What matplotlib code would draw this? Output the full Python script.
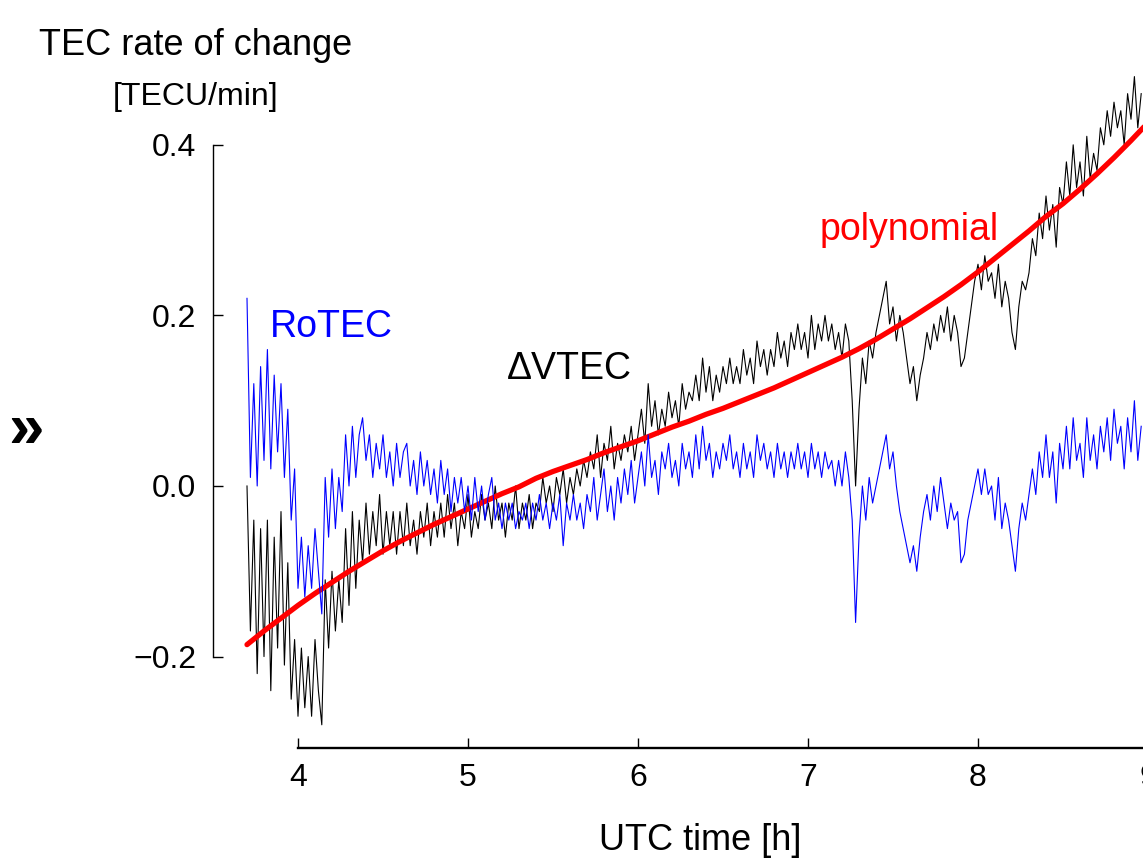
import numpy as np
import matplotlib
matplotlib.use("Agg")
import matplotlib.pyplot as plt

plt.rcParams['font.family'] = ['Liberation Sans', 'DejaVu Sans']

# time axis of the measured series (UTC hours), one sample every 0.02 h
t_start = 3.70
t_step = 0.02

# delta VTEC [TECU/min]
dvtec = [
    0.00, -0.17, -0.04, -0.22, -0.05, -0.20, -0.04, -0.24, -0.06, -0.19,
    -0.03, -0.21, -0.09, -0.25, -0.18, -0.27, -0.19, -0.26, -0.20, -0.27,
    -0.18, -0.24, -0.28, -0.11, -0.19, -0.10, -0.17, -0.11, -0.16, -0.05,
    -0.14, -0.03, -0.12, -0.04, -0.09, -0.02, -0.08, -0.03, -0.07, -0.01,
    -0.08, -0.03, -0.07, -0.03, -0.08, -0.03, -0.07, -0.02, -0.07, -0.04,
    -0.08, -0.03, -0.06, -0.02, -0.07, -0.03, -0.06, -0.02, -0.06, -0.01,
    -0.05, -0.02, -0.07, -0.03, -0.05, -0.01, -0.06, -0.03, -0.05, -0.01,
    -0.04, -0.02, -0.05, 0.00, -0.04, -0.02, -0.06, -0.02, -0.04, 0.00,
    -0.05, -0.02, -0.04, -0.01, -0.05, -0.02, -0.03, 0.01, -0.02, 0.00,
    -0.03, 0.01, -0.01, 0.02, -0.02, 0.01, -0.01, 0.02, 0.00, 0.03,
    0.01, 0.04, 0.02, 0.06, 0.01, 0.05, 0.03, 0.07, 0.02, 0.05,
    0.03, 0.06, 0.04, 0.07, 0.03, 0.06, 0.09, 0.05, 0.12, 0.07,
    0.10, 0.06, 0.09, 0.07, 0.11, 0.08, 0.10, 0.07, 0.12, 0.09,
    0.11, 0.10, 0.13, 0.10, 0.15, 0.11, 0.14, 0.10, 0.13, 0.11,
    0.14, 0.12, 0.15, 0.12, 0.14, 0.12, 0.16, 0.13, 0.15, 0.12,
    0.17, 0.14, 0.16, 0.13, 0.16, 0.14, 0.18, 0.15, 0.17, 0.14,
    0.18, 0.16, 0.19, 0.16, 0.18, 0.15, 0.20, 0.16, 0.19, 0.17,
    0.20, 0.17, 0.19, 0.16, 0.18, 0.15, 0.19, 0.17, 0.10, 0.00,
    0.09, 0.15, 0.12, 0.17, 0.15, 0.18, 0.20, 0.22, 0.24, 0.19,
    0.21, 0.17, 0.20, 0.18, 0.15, 0.12, 0.14, 0.10, 0.13, 0.15,
    0.18, 0.16, 0.19, 0.17, 0.20, 0.18, 0.21, 0.17, 0.20, 0.18,
    0.14, 0.15, 0.18, 0.21, 0.24, 0.26, 0.23, 0.27, 0.24, 0.25,
    0.22, 0.26, 0.21, 0.24, 0.22, 0.18, 0.16, 0.21, 0.24, 0.23,
    0.25, 0.29, 0.27, 0.32, 0.29, 0.34, 0.30, 0.33, 0.28, 0.35,
    0.33, 0.38, 0.34, 0.40, 0.35, 0.38, 0.34, 0.41, 0.36, 0.39,
    0.37, 0.42, 0.40, 0.44, 0.41, 0.45, 0.42, 0.44, 0.40, 0.46,
    0.43, 0.48, 0.42, 0.46,
]

# RoTEC [TECU/min]
rotec = [
    0.22, 0.01, 0.12, 0.00, 0.14, 0.03, 0.16, 0.02, 0.13, 0.04,
    0.12, 0.01, 0.09, -0.04, 0.02, -0.12, -0.06, -0.13, -0.07, -0.12,
    -0.05, -0.10, -0.15, 0.01, -0.06, 0.02, -0.05, 0.01, -0.03, 0.06,
    0.00, 0.07, 0.01, 0.06, 0.08, 0.03, 0.06, 0.01, 0.05, 0.02,
    0.06, 0.01, 0.04, 0.00, 0.05, 0.01, 0.04, 0.05, 0.00, 0.03,
    -0.01, 0.04, 0.00, 0.03, -0.01, 0.02, -0.02, 0.03, -0.01, 0.02,
    -0.03, 0.01, -0.02, 0.01, -0.03, 0.00, -0.04, 0.01, -0.03, 0.00,
    -0.04, -0.01, 0.01, -0.04, -0.02, -0.05, -0.02, -0.04, -0.02, -0.05,
    -0.03, -0.04, -0.02, -0.05, -0.02, -0.04, -0.01, -0.04, -0.02, -0.05,
    -0.02, -0.04, -0.01, -0.07, -0.02, -0.04, -0.01, -0.04, -0.02, -0.05,
    -0.01, -0.03, 0.01, -0.04, -0.01, 0.02, -0.03, 0.00, -0.04, 0.01,
    -0.02, 0.02, -0.01, 0.03, -0.02, 0.01, 0.04, 0.00, 0.06, 0.01,
    0.03, -0.01, 0.04, 0.02, 0.05, 0.01, 0.03, 0.00, 0.05, 0.02,
    0.04, 0.01, 0.06, 0.02, 0.07, 0.03, 0.05, 0.01, 0.04, 0.02,
    0.05, 0.03, 0.06, 0.02, 0.04, 0.01, 0.05, 0.02, 0.04, 0.01,
    0.06, 0.03, 0.05, 0.02, 0.04, 0.01, 0.05, 0.02, 0.04, 0.01,
    0.04, 0.02, 0.05, 0.02, 0.04, 0.01, 0.05, 0.02, 0.04, 0.01,
    0.04, 0.02, 0.03, 0.00, 0.03, 0.00, 0.04, 0.01, -0.04, -0.16,
    -0.06, 0.00, -0.04, 0.01, -0.02, 0.00, 0.02, 0.04, 0.06, 0.02,
    0.04, 0.00, -0.03, -0.05, -0.07, -0.09, -0.07, -0.10, -0.06, -0.03,
    -0.01, -0.04, 0.00, -0.03, 0.01, -0.02, -0.05, -0.02, -0.04, -0.03,
    -0.09, -0.08, -0.04, -0.02, 0.00, 0.02, -0.01, 0.02, -0.01, 0.00,
    -0.04, 0.01, -0.05, -0.02, -0.04, -0.07, -0.10, -0.05, -0.02, -0.04,
    -0.01, 0.02, -0.01, 0.04, 0.01, 0.06, 0.01, 0.04, -0.02, 0.05,
    0.02, 0.07, 0.02, 0.08, 0.03, 0.05, 0.01, 0.08, 0.03, 0.06,
    0.02, 0.07, 0.04, 0.08, 0.03, 0.09, 0.05, 0.07, 0.02, 0.08,
    0.04, 0.10, 0.03, 0.07,
]

# fitted polynomial, read every 0.1 h from 3.7 to 9.0
poly_t = [3.7, 3.8, 3.9, 4.0, 4.1, 4.2, 4.3, 4.4, 4.5, 4.6,
          4.7, 4.8, 4.9, 5.0, 5.1, 5.2, 5.3, 5.4, 5.5, 5.6,
          5.7, 5.8, 5.9, 6.0, 6.1, 6.2, 6.3, 6.4, 6.5, 6.6,
          6.7, 6.8, 6.9, 7.0, 7.1, 7.2, 7.3, 7.4, 7.5, 7.6,
          7.7, 7.8, 7.9, 8.0, 8.1, 8.2, 8.3, 8.4, 8.5, 8.6,
          8.7, 8.8, 8.9, 9.0]
poly_v = [-0.186, -0.170, -0.155, -0.140, -0.126, -0.113, -0.100, -0.088, -0.076, -0.065,
          -0.055, -0.045, -0.036, -0.027, -0.018, -0.009, -0.001, 0.009, 0.017, 0.024,
          0.031, 0.039, 0.046, 0.053, 0.061, 0.069, 0.076, 0.084, 0.091, 0.099,
          0.107, 0.115, 0.124, 0.133, 0.142, 0.151, 0.161, 0.172, 0.184, 0.196,
          0.209, 0.222, 0.236, 0.251, 0.267, 0.283, 0.299, 0.316, 0.331, 0.348,
          0.366, 0.385, 0.405, 0.426]

x_ticks = [4, 5, 6, 7, 8, 9]
y_ticks = [-0.2, 0.0, 0.2, 0.4]


def main():
    t = t_start + t_step * np.arange(len(dvtec))

    fig = plt.figure(figsize=(11.43, 8.61), dpi=100)
    # axes runs past the right edge, the source picture is cropped there
    ax = fig.add_axes([213 / 1143, 113 / 861, 947 / 1143, 708 / 861])

    ax.plot(t, dvtec, color="black", lw=0.8)
    ax.plot(poly_t, poly_v, color="#ff0000", lw=3.8, solid_capstyle="round")
    ax.plot(t, rotec, color="#0000ff", lw=0.8)

    ax.set_xlim(3.5, 9.0706)
    ax.set_ylim(-0.3072, 0.5229)
    ax.set_xticks(x_ticks)
    ax.set_yticks(y_ticks)

    for s in ["top", "right"]:
        ax.spines[s].set_visible(False)
    ax.spines["left"].set_bounds(-0.2, 0.4)
    ax.spines["bottom"].set_bounds(4, 9)
    ax.spines["left"].set_linewidth(1.0)
    ax.spines["bottom"].set_linewidth(1.7)

    ax.tick_params(direction="in", length=7, width=1.0, labelsize=23)
    ax.tick_params(axis="x", pad=11)
    ax.tick_params(axis="y", pad=12)

    ax.text(3.835, 0.175, "RoTEC", color="#0000ff", fontsize=27)
    ax.text(5.23, 0.125, "\u0394VTEC", color="black", fontsize=27)
    ax.text(7.07, 0.288, "polynomial", color="#ff0000", fontsize=27)

    fig.text(700 / 1143, 1 - 850 / 861, "UTC time [h]", fontsize=26, ha="center")
    fig.text(196 / 1143, 1 - 55 / 861, "TEC rate of change", fontsize=26, ha="center")
    fig.text(196 / 1143, 1 - 105 / 861, "[TECU/min]", fontsize=23, ha="center")
    fig.text(8 / 1143, 1 - 430 / 861, "\u00bb", fontsize=46, fontweight="bold", va="center")

    fig.savefig("out.png", dpi=100)


if __name__ == '__main__':
    main()
